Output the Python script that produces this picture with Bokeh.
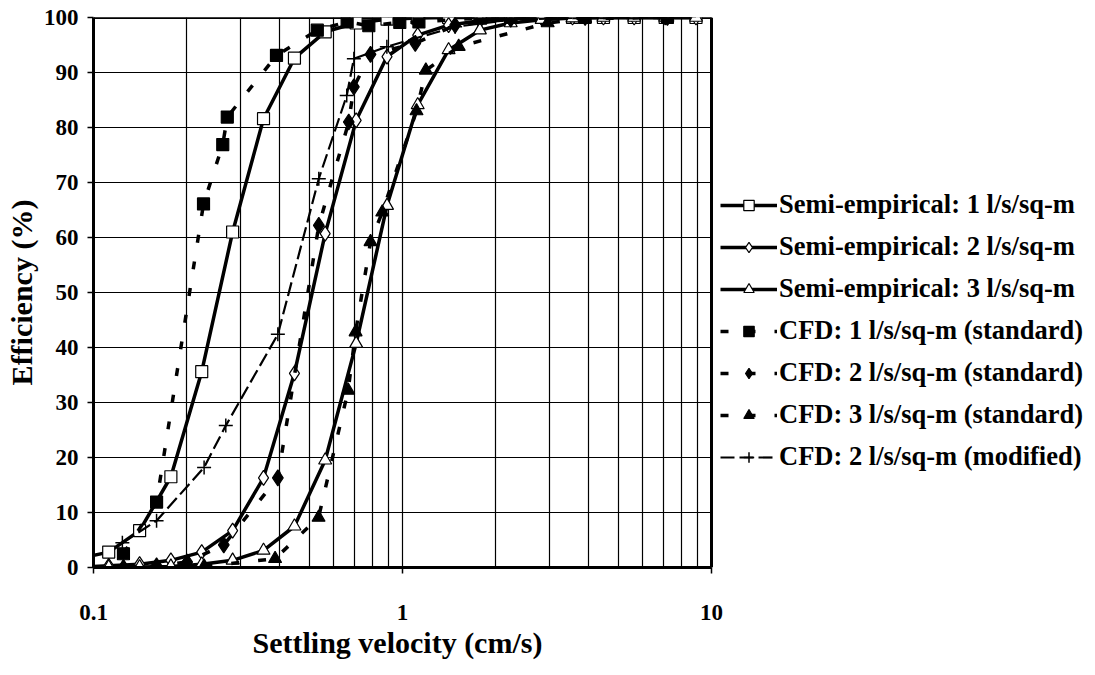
from bokeh.plotting import figure
from bokeh.models import FixedTicker, PrintfTickFormatter, Legend, LegendItem, Range1d, Span, Title
from bokeh.embed import file_html
from bokeh.resources import INLINE

# ---- data (settling velocity cm/s, efficiency %) ----
semi_v = [0.0891, 0.112, 0.141, 0.178, 0.224, 0.282, 0.355, 0.447, 0.562, 0.708,
          0.891, 1.12, 1.41, 1.78, 2.24, 2.82, 3.55, 4.47, 5.62, 7.08, 8.91]
semi1 = [1.6, 2.8, 6.7, 16.5, 35.6, 61.0, 81.6, 92.6, 97.4, 99.0,
         99.7, 99.9, 100, 100, 100, 100, 100, 100, 100, 100, 100]
semi2 = [0.1, 0.3, 0.6, 1.3, 2.8, 6.7, 16.3, 35.3, 60.7, 81.3,
         92.9, 96.8, 98.6, 99.4, 99.8, 99.9, 100, 100, 100, 100, 100]
semi3 = [0.0, 0.05, 0.1, 0.2, 0.6, 1.3, 3.1, 7.5, 19.5, 40.7,
         65.8, 84.1, 94.1, 97.7, 99.0, 99.6, 99.9, 100, 100, 100, 100]

cfd1_v = [0.125, 0.160, 0.227, 0.262, 0.271, 0.391, 0.530, 0.662, 0.778, 0.980, 1.13, 1.79, 2.24, 3.9, 7.2]
cfd1 = [2.5, 11.9, 66.1, 76.9, 81.9, 93.1, 97.7, 99.2, 98.5, 99.1, 99.2, 99.9, 100, 100, 100]
cfd2_v = [0.125, 0.160, 0.201, 0.264, 0.395, 0.536, 0.670, 0.696, 0.788, 1.10, 1.48, 2.24, 3.9, 7.2]
cfd2 = [0.0, 0.3, 1.0, 4.1, 16.3, 62.2, 81.0, 87.4, 93.3, 95.3, 98.6, 99.7, 100, 100]
cfd3_v = [0.125, 0.160, 0.201, 0.228, 0.387, 0.535, 0.667, 0.705, 0.788, 0.86, 1.11, 1.19, 1.52, 2.95, 3.9, 7.2]
cfd3 = [0.0, 0.0, 0.0, 0.2, 1.6, 9.1, 32.2, 42.8, 59.2, 64.6, 83.0, 90.4, 94.7, 99.0, 99.8, 100]
cfdm_v = [0.124, 0.160, 0.228, 0.268, 0.395, 0.536, 0.660, 0.696, 0.89, 1.48, 2.24, 3.9, 7.2]
cfdm = [4.5, 8.5, 18.2, 25.8, 42.4, 70.7, 85.8, 92.5, 94.7, 98.3, 99.6, 100, 100]

labels = ["Semi-empirical: 1 l/s/sq-m", "Semi-empirical: 2 l/s/sq-m", "Semi-empirical: 3 l/s/sq-m",
          "CFD: 1 l/s/sq-m (standard)", "CFD: 2 l/s/sq-m (standard)", "CFD: 3 l/s/sq-m (standard)",
          "CFD: 2 l/s/sq-m (modified)"]
x_major = [0.1, 1, 10]
y_major = [0, 10, 20, 30, 40, 50, 60, 70, 80, 90, 100]
x_title = "Settling velocity (cm/s)"
y_title = "Efficiency (%)"

FONT = "Liberation Serif"

# ---- layout geometry (pixels) ----
W, H = 1092, 672
LEFT, TOP, BOTTOM = 93, 17, 105
PLOT_W = 618                    # width of the visible log area 0.1 .. 10
DECADE = PLOT_W / 2.0
frame_w = W - LEFT
x_lo, x_hi = x_major[0], x_major[-1]
x_end = 10 ** (-1 + frame_w / DECADE)   # extend frame so the legend can sit inside it

p = figure(width=W, height=H, x_axis_type="log",
           x_range=Range1d(x_lo, x_end), y_range=Range1d(y_major[0], y_major[-1]),
           output_backend="svg", toolbar_location=None,
           min_border_left=LEFT, min_border_right=0, min_border_top=TOP, min_border_bottom=BOTTOM)
p.background_fill_color = "white"
p.border_fill_color = "white"
p.outline_line_color = None

minor = [m * d for d in (0.1, 1) for m in range(2, 10)]
p.xaxis.ticker = FixedTicker(ticks=x_major, minor_ticks=minor)
p.xaxis.formatter = PrintfTickFormatter(format="%g")
p.xaxis.bounds = (x_lo, x_hi)
p.yaxis.ticker = FixedTicker(ticks=y_major)

for ax in (p.xaxis[0], p.yaxis[0]):
    ax.axis_line_width = 3
    ax.axis_line_color = "black"
    ax.major_tick_line_color = "black"
    ax.major_tick_line_width = 1.5
    ax.major_tick_out = 6
    ax.major_tick_in = 0
    ax.minor_tick_line_color = None
    ax.major_label_text_font = FONT
    ax.major_label_text_font_style = "bold"
    ax.major_label_text_font_size = "23px"
    ax.major_label_text_color = "black"
    ax.axis_label_text_font = FONT
    ax.axis_label_text_font_style = "bold"
    ax.axis_label_text_font_size = "30px"
    ax.axis_label_text_color = "black"

p.yaxis.axis_label = y_title
p.xaxis.major_label_standoff = 31
p.yaxis.major_label_standoff = 9
p.yaxis.axis_label_standoff = 3

# x title centred under the visible log area (not under the wider frame)
xt = Title(text=x_title, align="left", offset=PLOT_W / 2 - 150, standoff=2,
           text_font=FONT, text_font_style="bold", text_font_size="30px", text_color="black")
p.add_layout(xt, "below")

p.xgrid.grid_line_color = "black"
p.xgrid.grid_line_width = 1.2
p.xgrid.minor_grid_line_color = "black"
p.xgrid.minor_grid_line_width = 1.2
p.ygrid.grid_line_color = None

# horizontal grid lines limited to the visible log area, and the top border
n = len(y_major)
p.segment(x0=[x_lo] * n, x1=[x_hi] * n, y0=y_major, y1=y_major, line_color="black", line_width=1.2)
p.segment(x0=[x_lo], x1=[x_hi], y0=[y_major[-1]], y1=[y_major[-1]], line_color="black", line_width=3)

items = []

def series(xs, ys, label, marker, size, fill, dash, lw, mlw=1.2):
    lr = p.line(xs, ys, line_color="black", line_width=lw, line_dash=dash)
    sr = p.scatter(xs, ys, marker=marker, size=size,
                   fill_color=fill, line_color="black", line_width=mlw)
    items.append(LegendItem(label=label, renderers=[lr, sr]))

series(semi_v, semi1, labels[0], "square", 12, "white", "solid", 3.5)
series(semi_v, semi2, labels[1], "diamond", 15, "white", "solid", 3.5)
series(semi_v, semi3, labels[2], "triangle", 13, "white", "solid", 3.5)
series(cfd1_v, cfd1, labels[3], "square", 12, "black", "8 19", 3.5)
series(cfd2_v, cfd2, labels[4], "diamond", 16, "black", "8 19", 3.5)
series(cfd3_v, cfd3, labels[5], "triangle", 13, "black", "8 19", 3.5)
series(cfdm_v, cfdm, labels[6], "cross", 14, None, "14 5", 2.2, mlw=1.5)

# right border of the plotting area
p.add_layout(Span(location=x_hi, dimension="height", line_color="black", line_width=3))

legend = Legend(items=items, location=(627, 95))
legend.border_line_color = None
legend.background_fill_alpha = 0
legend.padding = 0
legend.margin = 0
legend.spacing = 11
legend.glyph_width = 57
legend.glyph_height = 26
legend.label_height = 26
legend.label_standoff = 2
legend.label_text_font = FONT
legend.label_text_font_style = "bold"
legend.label_text_font_size = "26.5px"
legend.label_text_color = "black"
p.add_layout(legend, "center")

open("out.html", "w").write(file_html(p, INLINE))
